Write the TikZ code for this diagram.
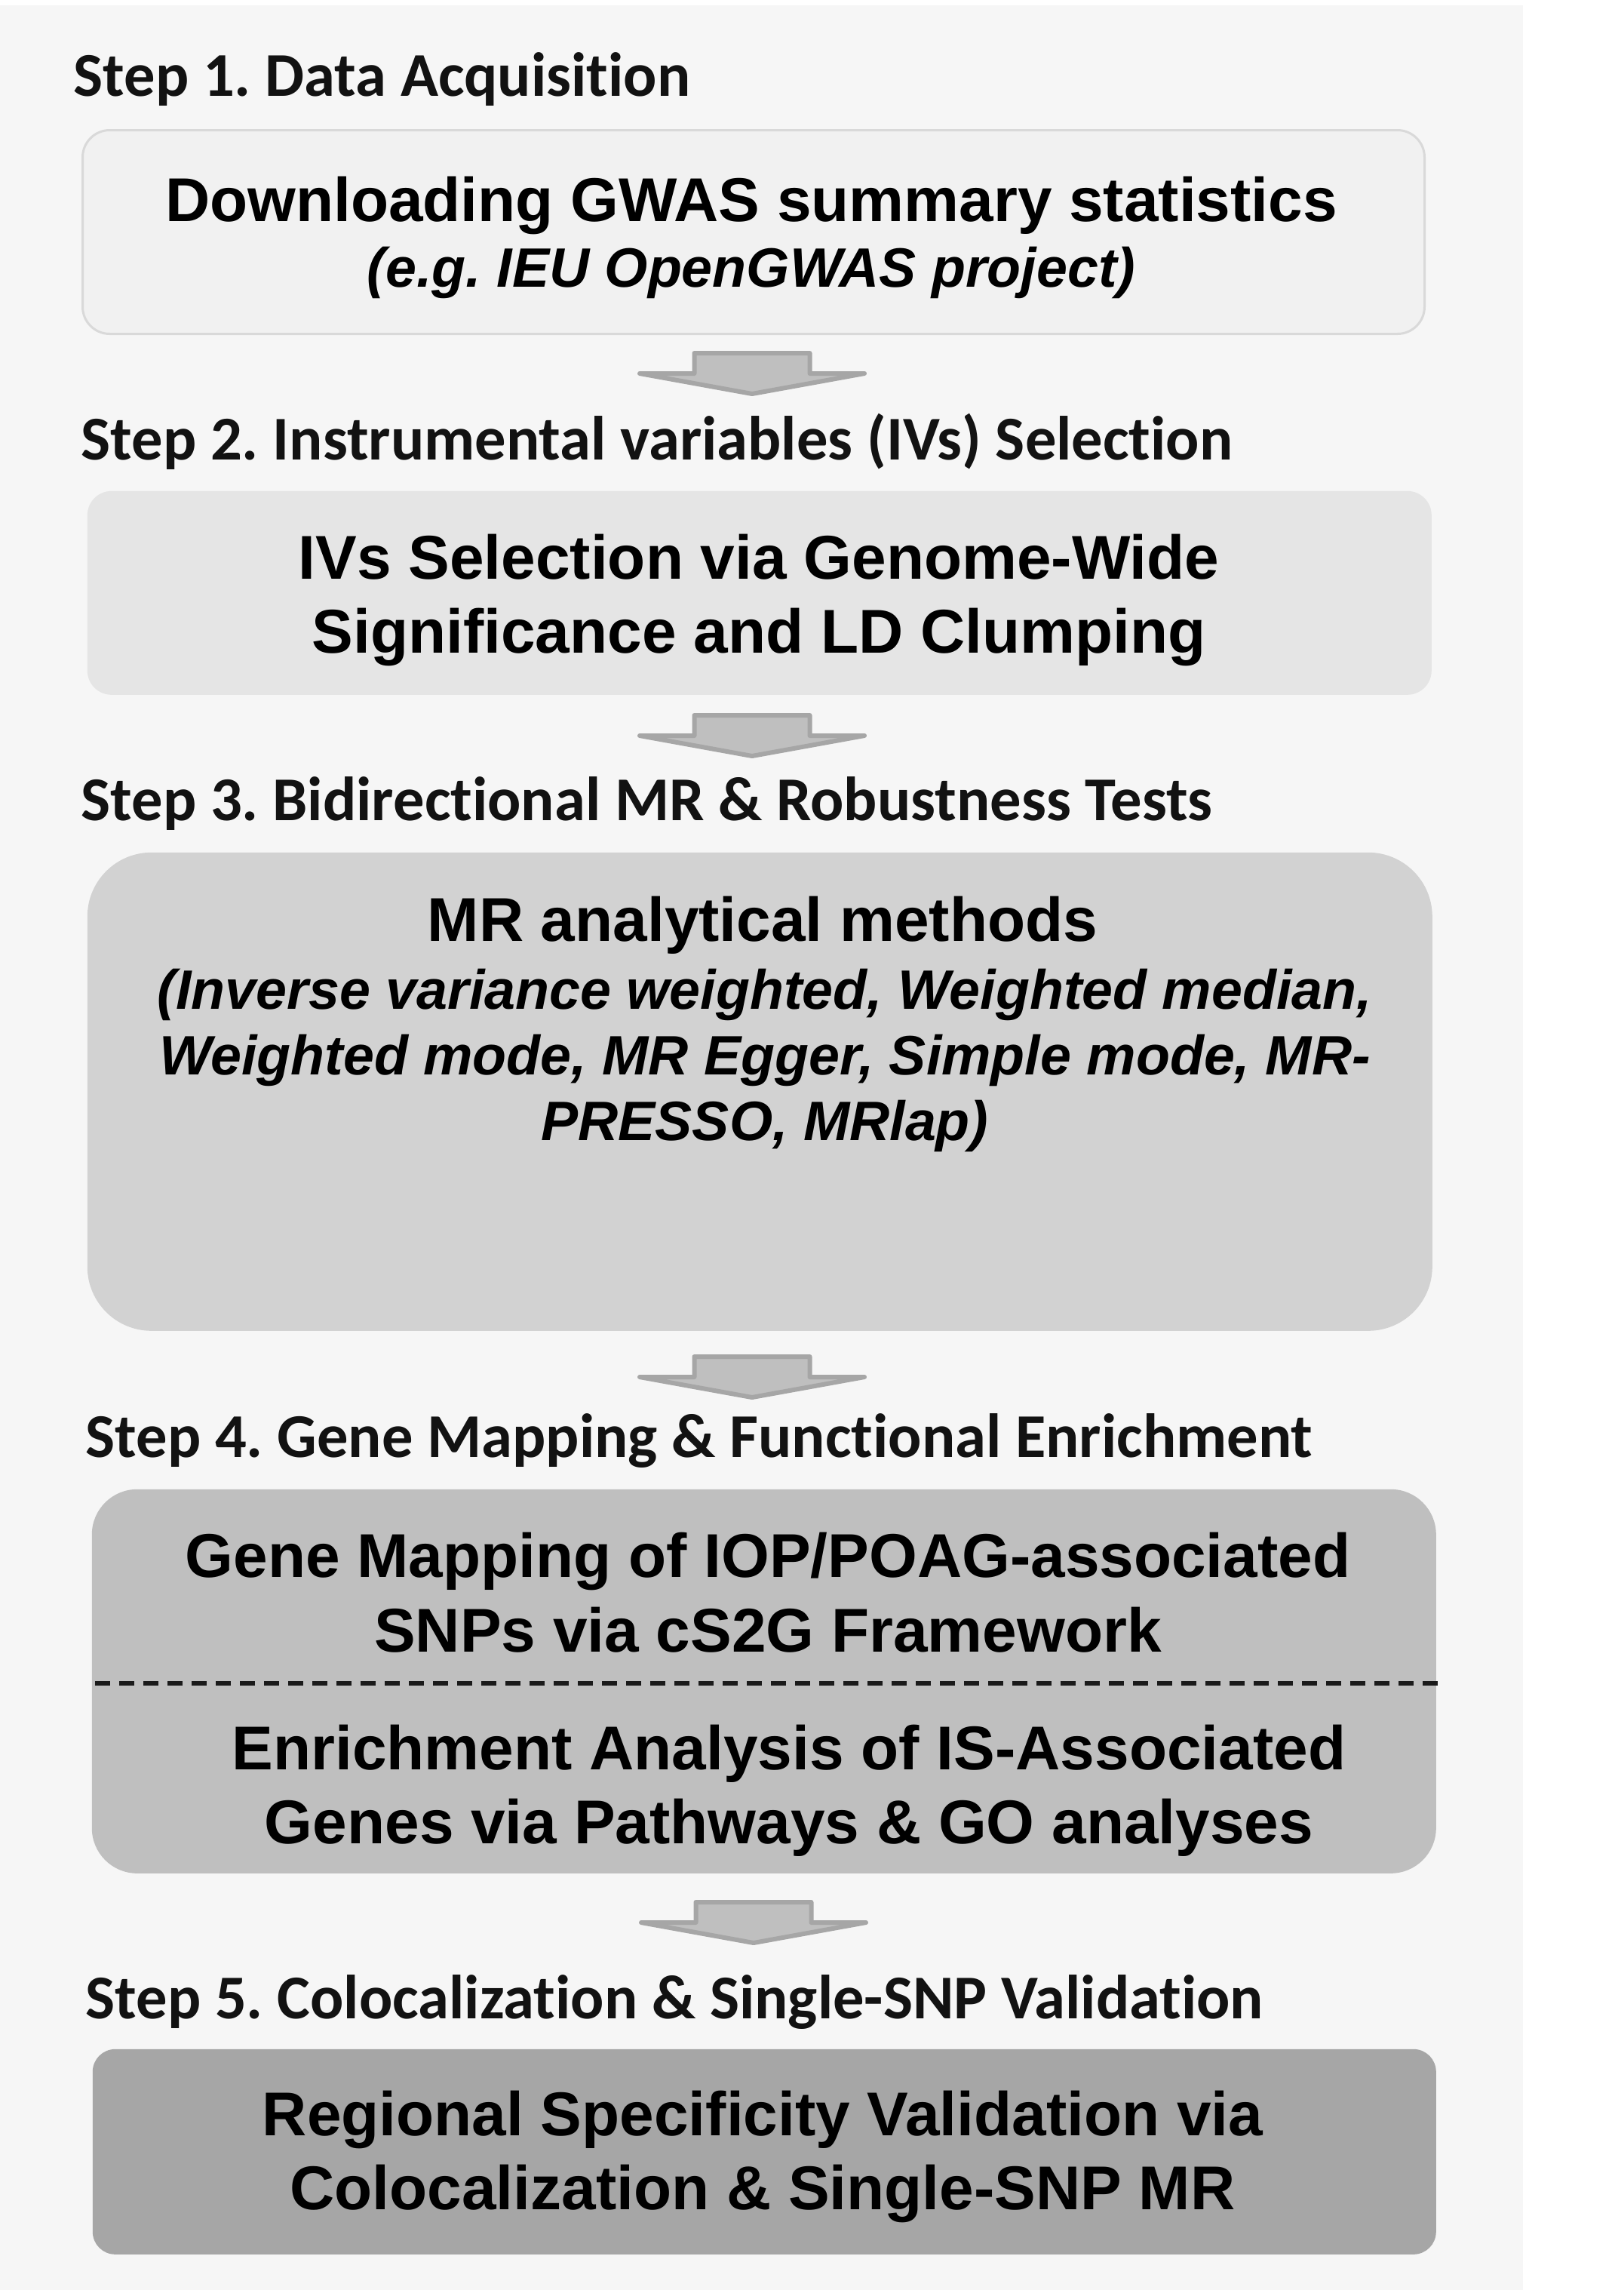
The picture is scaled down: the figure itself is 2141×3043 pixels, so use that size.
\documentclass[tikz,border=0pt]{standalone}
\usepackage{fontspec}
\setmainfont{Liberation Sans}
\newfontfamily\stepfont[Ligatures=NoCommon]{Carlito}
\frenchspacing
\definecolor{bgcol}{HTML}{F6F6F6}
\definecolor{boxonefill}{HTML}{F1F1F1}
\definecolor{boxoneline}{HTML}{D9D9D9}
\definecolor{boxtwofill}{HTML}{E5E5E5}
\definecolor{boxthreefill}{HTML}{D2D2D2}
\definecolor{boxfourfill}{HTML}{BFBFBF}
\definecolor{boxfivefill}{HTML}{A6A6A6}
\definecolor{arrowfill}{HTML}{BFBFBF}
\definecolor{arrowline}{HTML}{A6A6A6}
\definecolor{stepcol}{HTML}{121212}
\definecolor{dashcol}{HTML}{1A1A1A}
\begin{document}
\begin{tikzpicture}[x=0.25pt,y=-0.25pt,
  steplabel/.style={anchor=base west, inner sep=0pt, text=stepcol,
    font=\stepfont\bfseries\fontsize{20.65pt}{24.5pt}\selectfont},
  boxtext/.style={anchor=base, inner sep=0pt,
    font=\bfseries\fontsize{20.5pt}{24.5pt}\selectfont},
  boxital/.style={anchor=base, inner sep=0pt,
    font=\bfseries\itshape\fontsize{18.4pt}{21.75pt}\selectfont},
  stagebox/.style={rectangle, anchor=north west, inner sep=0pt},
  blockarrow/.style={fill=arrowfill, draw=arrowline, line width=1.5pt, line join=round},
  divider/.style={draw=dashcol, line width=1.3pt, dash pattern=on 5pt off 3pt}
]
\useasboundingbox (0,0) rectangle (2141,3043);
\fill[bgcol] (0,7) rectangle (2019,3035);

% boxes
\node[stagebox, fill=boxonefill, draw=boxoneline, line width=0.75pt, rounded corners=9pt,
  minimum width=444.75pt, minimum height=67.5pt] (box1) at (108,171) {};
\node[stagebox, fill=boxtwofill, rounded corners=8pt,
  minimum width=445.5pt, minimum height=67.5pt] (box2) at (115,650) {};
\node[stagebox, fill=boxthreefill, rounded corners=21.25pt,
  minimum width=445.75pt, minimum height=158.5pt] (box3) at (115,1129) {};
\node[stagebox, fill=boxfourfill, rounded corners=15pt,
  minimum width=445.5pt, minimum height=127.25pt] (box4) at (121,1973) {};
\node[stagebox, fill=boxfivefill, rounded corners=7.5pt,
  minimum width=445.25pt, minimum height=68pt] (box5) at (122,2715) {};

% divider in box 4
\coordinate (d1) at (126,2231);
\coordinate (d2) at (1910,2231);
\draw[divider] (d1) -- (d2);

% block arrows
\coordinate (a1) at (997,465);
\coordinate (a2) at (997,945);
\coordinate (a3) at (997,1795);
\coordinate (a4) at (999,2518);
\foreach \a in {a1,a2,a3,a4}{
  \draw[blockarrow, shift={(\a)}] (-76.5,3) -- (76.5,3) -- (76.5,30) -- (149,30)
    -- (0,57) -- (-149,30) -- (-76.5,30) -- cycle;
}

% texts
\node[steplabel] (s1) at (97,127) {Step 1. Data Acquisition};
\node[boxtext] (t1a) at (996,293) {Downloading GWAS summary statistics};
\node[boxital] (t1b) at (996,380) {(e.g. IEU OpenGWAS project)};

\node[steplabel] (s2) at (107,609) {Step 2. Instrumental variables (IVs) Selection};
\node[boxtext] (t2a) at (1006,767) {IVs Selection via Genome-Wide};
\node[boxtext] (t2b) at (1006,865) {Significance and LD Clumping};

\node[steplabel] (s3) at (107,1087) {Step 3. Bidirectional MR \& Robustness Tests};
\node[boxtext] (t3a) at (1011,1247) {MR analytical methods};
\node[boxital] (t3b) at (1014,1337) {(Inverse variance weighted, Weighted median,};
\node[boxital] (t3c) at (1014,1424) {Weighted mode, MR Egger, Simple mode, MR-};
\node[boxital] (t3d) at (1014,1511) {PRESSO, MRlap)};

\node[steplabel] (s4) at (113,1931) {Step 4. Gene Mapping \& Functional Enrichment};
\node[boxtext] (t4a) at (1018,2090) {Gene Mapping of IOP/POAG-associated};
\node[boxtext] (t4b) at (1018,2189) {SNPs via cS2G Framework};
\node[boxtext] (t4c) at (1046,2345) {Enrichment Analysis of IS-Associated};
\node[boxtext] (t4d) at (1046,2443) {Genes via Pathways \& GO analyses};

\node[steplabel] (s5) at (113,2675) {Step 5. Colocalization \& Single-SNP Validation};
\node[boxtext] (t5a) at (1011,2830) {Regional Specificity Validation via};
\node[boxtext] (t5b) at (1011,2928) {Colocalization \& Single-SNP MR};
\end{tikzpicture}
\end{document}
